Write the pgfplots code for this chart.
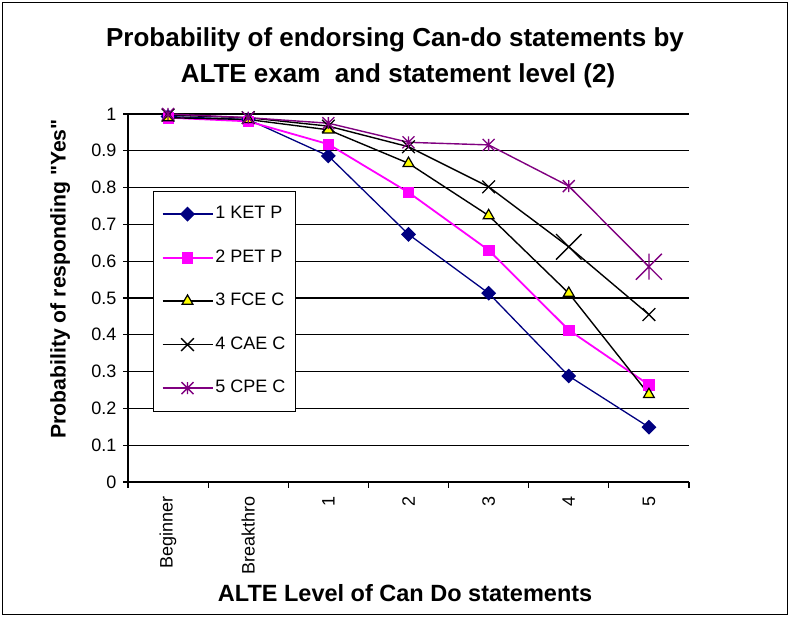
\documentclass[border=0pt]{standalone}
\usepackage{fontspec}
\setmainfont{Liberation Sans}[Ligatures=TeXOff]
\usepackage{pgfplots}
\pgfplotsset{compat=1.18}
\definecolor{navy}{RGB}{0,0,128}
\definecolor{mag}{RGB}{255,0,255}
\definecolor{purp}{RGB}{128,0,128}
\definecolor{yel}{RGB}{255,255,0}
\pgfdeclareplotmark{xstar}{%
  \pgfpathmoveto{\pgfqpoint{0pt}{\pgfplotmarksize}}%
  \pgfpathlineto{\pgfqpoint{0pt}{-\pgfplotmarksize}}%
  \pgfpathmoveto{\pgfqpoint{-\pgfplotmarksize}{-\pgfplotmarksize}}%
  \pgfpathlineto{\pgfqpoint{\pgfplotmarksize}{\pgfplotmarksize}}%
  \pgfpathmoveto{\pgfqpoint{-\pgfplotmarksize}{\pgfplotmarksize}}%
  \pgfpathlineto{\pgfqpoint{\pgfplotmarksize}{-\pgfplotmarksize}}%
  \pgfusepathqstroke}
\begin{document}
\begin{tikzpicture}
\useasboundingbox (0pt,0pt) rectangle (790pt,617pt);
\draw[line width=1.5pt] (2.5pt,2.5pt) rectangle (787.5pt,614.5pt);
\node[font=\bfseries\fontsize{26}{30}\selectfont, anchor=base] at (395pt,570pt) {Probability of endorsing Can-do statements by};
\node[font=\bfseries\fontsize{26}{30}\selectfont, anchor=base] at (398pt,534pt) {ALTE exam\ \ and statement level (2)};
\begin{axis}[
  at={(128pt,135pt)}, anchor=south west,
  scale only axis, width=561pt, height=368pt,
  xmin=-0.5, xmax=6.5, ymin=0, ymax=1,
  clip=false,
  axis x line*=bottom, axis y line*=left,
  axis line style={-, black, line width=1.3pt},
  tick align=outside,
  xtick={0,1,2,3,4,5,6},
  xticklabels={Beginner,Breakthro,1,2,3,4,5},
  minor xtick={-0.5,0.5,1.5,2.5,3.5,4.5,5.5,6.5},
  major x tick style={draw=none},
  minor x tick style={black, line width=1.2pt},
  minor tick length=6pt,
  major tick length=5pt,
  ytick={0,0.1,0.2,0.3,0.4,0.5,0.6,0.7,0.8,0.9,1},
  yticklabels={0,0.1,0.2,0.3,0.4,0.5,0.6,0.7,0.8,0.9,1},
  y tick style={black, line width=1.2pt},
  ymajorgrids,
  major grid style={black, line width=1.2pt},
  tick label style={font=\fontsize{18}{20}\selectfont},
  xticklabel style={rotate=90, anchor=east},
  xticklabel shift=6pt,
  yticklabel shift=3pt,
  xlabel={ALTE Level of Can Do statements},
  ylabel={Probability of responding "Yes"},
  xlabel style={font=\bfseries\fontsize{23.5}{26}\selectfont, at={(axis description cs:0.494,-0.302)}, anchor=center},
  ylabel style={font=\bfseries\fontsize{21.2}{26}\selectfont, at={(axis description cs:-0.121,0.552)}, anchor=center},
  legend style={at={(axis description cs:0.0446,0.792)}, anchor=north west,
    draw=black, line width=1.2pt, fill=white,
    font=\fontsize{18}{20}\selectfont,
    inner xsep=8pt, inner ysep=12.5pt, row sep=22.5pt,
    nodes={inner sep=2pt, text height=13pt, text depth=4pt}},
  legend cell align=left,
  legend image code/.code={\draw[mark=none] (0pt,0pt) -- (50pt,0pt); \draw[mark indices={1}] plot coordinates {(25pt,0pt)};},
]
\addplot[navy, line width=1.3pt, mark=square*, mark size=4.6pt, mark options={rotate=45, fill=navy, draw=navy}]
  coordinates {(0,0.993)(1,0.985)(2,0.886)(3,0.673)(4,0.513)(5,0.288)(6,0.149)};
\addlegendentry{1 KET P}
\addplot[mag, line width=1.8pt, mark=square*, mark size=5.2pt, mark options={fill=mag, draw=mag, line width=0.5pt}]
  coordinates {(0,0.99)(1,0.98)(2,0.918)(3,0.787)(4,0.630)(5,0.413)(6,0.264)};
\addlegendentry{2 PET P}
\addplot[black, line width=1.4pt, mark=triangle*, mark size=6.2pt, mark options={fill=yel, draw=black, line width=1.2pt}]
  coordinates {(0,0.99)(1,0.985)(2,0.957)(3,0.866)(4,0.724)(5,0.513)(6,0.238)};
\addlegendentry{3 FCE C}
\addplot[black, line width=1.4pt, mark=x, mark size=9pt, mark indices={1,2,3,4,5,7}, mark options={line width=1.3pt}]
  coordinates {(0,0.997)(1,0.99)(2,0.967)(3,0.911)(4,0.802)(5,0.639)(6,0.455)};
\addlegendentry{4 CAE C}
\addplot[purp, line width=1.4pt, mark=xstar, mark size=6pt, mark indices={1,2,3,4,5,6}, mark options={line width=1.3pt}]
  coordinates {(0,1.0)(1,0.99)(2,0.975)(3,0.923)(4,0.916)(5,0.804)(6,0.585)};
\addlegendentry{5 CPE C}
\addplot[forget plot, only marks, black, mark=x, mark size=18pt, mark options={line width=1.3pt}]
  coordinates {(5,0.639)};
\addplot[forget plot, only marks, purp, mark=xstar, mark size=13pt, mark options={line width=1.3pt}]
  coordinates {(6,0.585)};
\end{axis}
\end{tikzpicture}
\end{document}
